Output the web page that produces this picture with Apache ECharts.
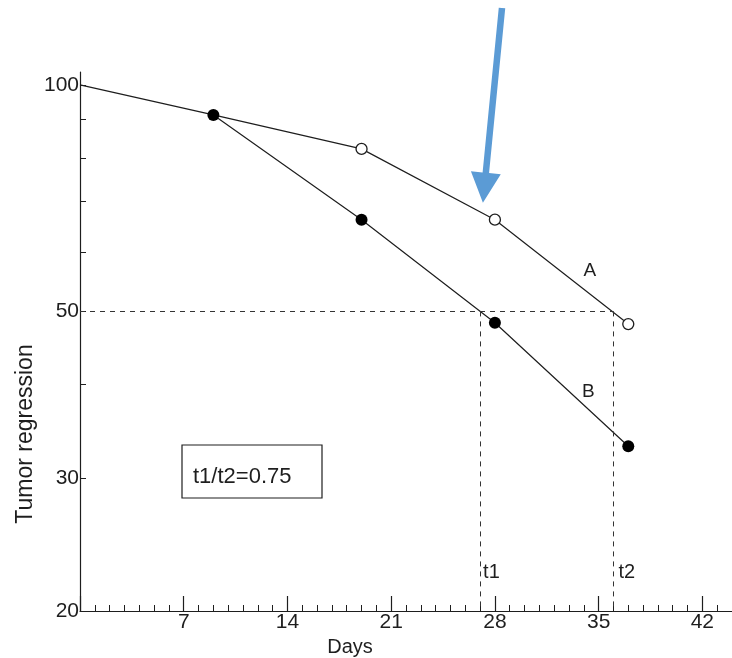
<!DOCTYPE html>
<html>
<head>
<meta charset="utf-8">
<script src="https://cdn.jsdelivr.net/npm/echarts@6/dist/echarts.min.js"></script>
<style>
html,body{margin:0;padding:0;background:#fff;}
#chart{width:732px;height:658px;}
</style>
</head>
<body>
<div id="chart"></div>
<script>
// ---- data ----
const daysB = [0, 9, 19, 28, 37];
const valuesB = [100, 91.2, 66.2, 48.3, 33.1];
const daysA = [9, 19, 28, 37];
const valuesA = [91.2, 82.2, 66.2, 48.1];
const t1 = 27;
const t2 = 36;
const halfLevel = 50;
const xLabelValues = [7, 14, 21, 28, 35, 42];
const xMajorTicks = [0, 7, 14, 21, 28, 35, 42];
const xMinorTicks = [1,2,3,4,5,6,8,9,10,11,12,13,15,16,17,18,19,20,22,23,24,25,26,27,29,30,31,32,33,34,36,37,38,39,40,41,43];
const yLabelValues = [20, 30, 50, 100];
const yTickValues = [20, 30, 40, 50, 60, 70, 80, 90, 100];
const ratioText = 't1/t2=0.75';

const L = v => Math.log10(v);
const FONT = 'Liberation Sans';
const INK = '#1e1e1e';

const chart = echarts.init(document.getElementById('chart'), null, {renderer: 'canvas'});

const dataB = daysB.map((d, i) => ({
  value: [d, L(valuesB[i])],
  symbol: i === 0 ? 'none' : 'circle'
}));
const dataA = daysA.map((d, i) => ({
  value: [d, L(valuesA[i])],
  symbol: i === 0 ? 'none' : 'circle'
}));

const yMin = L(20);
const yMax = 2.017;

chart.setOption({
  animation: false,
  backgroundColor: '#fff',
  grid: {left: 80, right: 0, top: 72, bottom: 47, containLabel: false},
  xAxis: [{
    type: 'value', min: 0, max: 44, interval: 7,
    axisLine: {show: true, lineStyle: {color: INK, width: 1.2}},
    axisTick: {show: true, inside: true, length: 15, customValues: xMajorTicks, lineStyle: {color: INK, width: 1.2}},
    axisLabel: {customValues: xLabelValues, margin: 1, color: INK, fontFamily: FONT, fontSize: 21},
    splitLine: {show: false}
  }, {
    type: 'value', min: 0, max: 44, position: 'bottom',
    axisLine: {show: false},
    axisTick: {show: true, inside: true, length: 6, customValues: xMinorTicks, lineStyle: {color: INK, width: 1}},
    axisLabel: {show: false},
    splitLine: {show: false}
  }],
  yAxis: {
    type: 'value', min: yMin, max: yMax,
    axisLine: {show: true, lineStyle: {color: INK, width: 1.2}},
    axisTick: {show: true, inside: true, length: 6, customValues: yTickValues.map(L), lineStyle: {color: INK, width: 1}},
    axisLabel: {
      customValues: yLabelValues.map(L), margin: 1, color: INK, fontFamily: FONT, fontSize: 21,
      formatter: v => String(Math.round(Math.pow(10, v)))
    },
    splitLine: {show: false}
  },
  series: [{
    name: 'A', type: 'line', data: dataA, z: 3,
    symbolSize: 11,
    lineStyle: {color: INK, width: 1.2},
    itemStyle: {color: '#fff', borderColor: INK, borderWidth: 1.3}
  }, {
    name: 'B', type: 'line', data: dataB, z: 4,
    symbolSize: 12,
    lineStyle: {color: INK, width: 1.2},
    itemStyle: {color: '#000', borderColor: '#000', borderWidth: 0},
    markLine: {
      silent: true, symbol: 'none', label: {show: false},
      lineStyle: {color: '#333', width: 1, type: [5, 5]},
      data: [
        [{coord: [0, L(halfLevel)]}, {coord: [t2, L(halfLevel)]}],
        [{coord: [t1, L(halfLevel)]}, {coord: [t1, yMin]}],
        [{coord: [t2, L(halfLevel)]}, {coord: [t2, yMin]}]
      ]
    }
  }]
});

function px(x, y) { return chart.convertToPixel({xAxisIndex: 0, yAxisIndex: 0}, [x, y]); }

function arrowPoints(tail, tip, shaftW, headL, headW) {
  const dx = tip[0] - tail[0], dy = tip[1] - tail[1];
  const len = Math.hypot(dx, dy);
  const ux = dx / len, uy = dy / len;
  const nx = -uy, ny = ux;
  const bx = tip[0] - ux * headL, by = tip[1] - uy * headL;
  return [
    [tail[0] + nx * shaftW / 2, tail[1] + ny * shaftW / 2],
    [bx + nx * shaftW / 2, by + ny * shaftW / 2],
    [bx + nx * headW / 2, by + ny * headW / 2],
    tip,
    [bx - nx * headW / 2, by - ny * headW / 2],
    [bx - nx * shaftW / 2, by - ny * shaftW / 2],
    [tail[0] - nx * shaftW / 2, tail[1] - ny * shaftW / 2]
  ];
}

const pA = px(daysA[2], L(valuesA[2]));
const tip = [pA[0] - 12, pA[1] - 17];
const tail = [502, 8];
const pT1 = px(t1, yMin);
const pT2 = px(t2, yMin);
const pLabA = px(34.4, L(valuesA[2]) - 0.07);
const pLabB = px(34.3, L(halfLevel) - 0.11);

const txt = (x, y, text, size, align) => ({
  type: 'text', x: x, y: y, z: 10,
  style: {text: text, fill: INK, font: size + 'px "' + FONT + '"', align: align || 'center', verticalAlign: 'middle'}
});

chart.setOption({
  graphic: [
    {type: 'polygon', z: 20, shape: {points: arrowPoints(tail, tip, 6.5, 30, 30)}, style: {fill: '#5B9BD5'}},
    {type: 'rect', z: 10, shape: {x: 182, y: 445, width: 140, height: 53}, style: {fill: 'none', stroke: INK, lineWidth: 1.2}},
    txt(193, 477, ratioText, 22, 'left'),
    txt(pLabA[0], 271, 'A', 19),
    txt(pLabB[0], 392, 'B', 19),
    txt(pT1[0] + 3, 572, 't1', 20, 'left'),
    txt(pT2[0] + 5, 572, 't2', 20, 'left'),
    txt(350, 647, 'Days', 20),
    Object.assign(txt(26, 434, 'Tumor regression', 23), {rotation: Math.PI / 2})
  ]
});
</script>
</body>
</html>
